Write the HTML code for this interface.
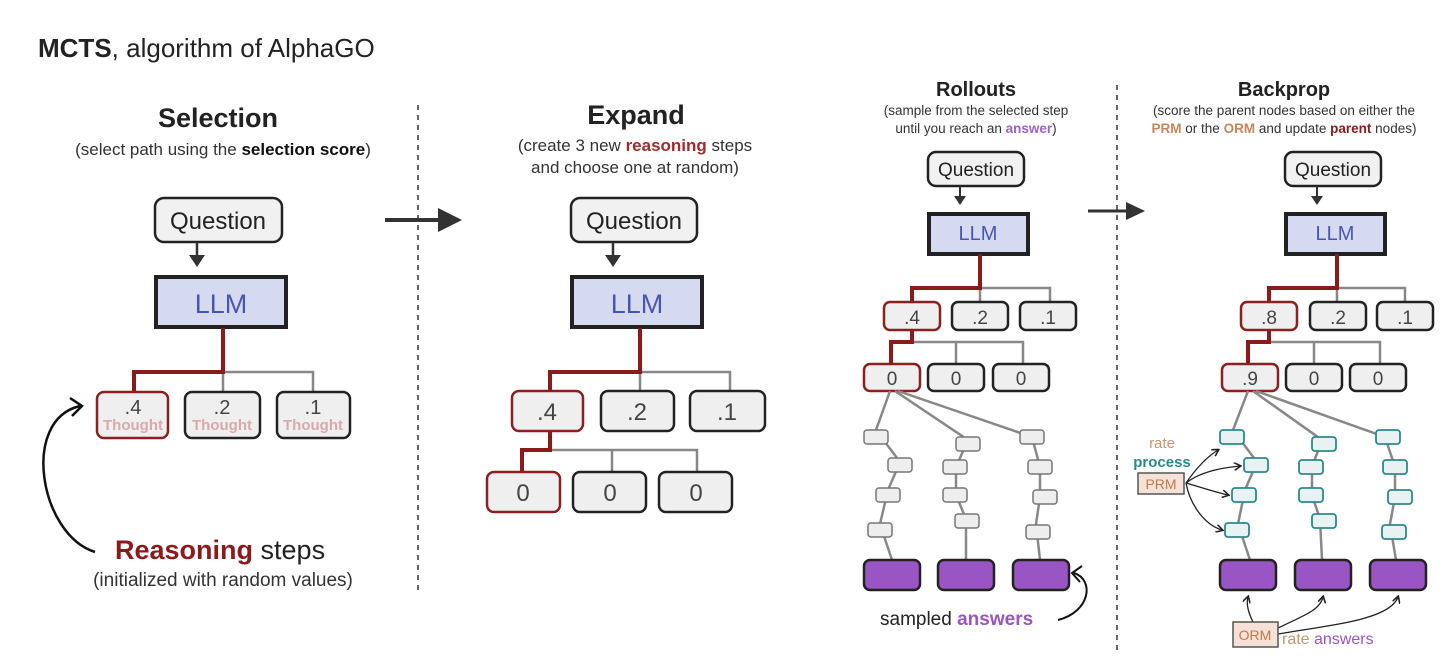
<!DOCTYPE html>
<html><head><meta charset="utf-8"><style>
html,body{margin:0;padding:0;background:#fff;}
svg{display:block;font-family:"Liberation Sans",sans-serif;}
</style></head><body>
<svg width="1456" height="671" viewBox="0 0 1456 671" xmlns="http://www.w3.org/2000/svg">
<defs>
<marker id="ah" markerWidth="8" markerHeight="8" refX="6" refY="4" orient="auto" markerUnits="userSpaceOnUse"><path d="M0,0 L7,4 L0,8" fill="none" stroke="#222" stroke-width="1.6"/></marker>
</defs>
<style>
.q{fill:#f1f1f1;stroke:#222;stroke-width:2.5}
.llm{fill:#d6daf0;stroke:#222;stroke-width:4}
.n{fill:#efefef;stroke:#222;stroke-width:2.5}
.r{fill:#efefef;stroke:#8b2020;stroke-width:2.5}
.s{fill:#eee;stroke:#777;stroke-width:1.5}
.t{fill:#e8f2f2;stroke:#2a8a8a;stroke-width:1.8}
.a{fill:#9a55c4;stroke:#222;stroke-width:2.5}
.rl{fill:none;stroke:#8b1a1a;stroke-width:4}
.gl{fill:none;stroke:#888;stroke-width:2.5}
.gt{fill:none;stroke:#888;stroke-width:2.5}
.txt{fill:#222}
.lt{fill:#4a55b0}
.num{fill:#444}
</style>

<text x="38" y="57" font-size="26" class="txt"><tspan font-weight="bold">MCTS</tspan>, algorithm of AlphaGO</text>

<!-- Panel 1 -->
<text x="218" y="127" font-size="27" font-weight="bold" text-anchor="middle" class="txt">Selection</text>
<text x="223" y="155" font-size="17" text-anchor="middle" fill="#333">(select path using the <tspan font-weight="bold" fill="#111">selection score</tspan>)</text>
<rect x="155" y="198" width="127" height="44" rx="9" class="q"/>
<text x="218" y="229" font-size="24" text-anchor="middle" class="txt">Question</text>
<line x1="197" y1="242" x2="197" y2="256" stroke="#333" stroke-width="2.5"/><path d="M189,255 L205,255 L197,267Z" fill="#333"/>
<rect x="156" y="277" width="130" height="50" class="llm"/>
<text x="221" y="313" font-size="27" text-anchor="middle" class="lt">LLM</text>
<path d="M223,372 H313 V393 M223,372 V393" class="gl"/>
<path d="M223,328 V372 H134 V393" class="rl"/>
<rect x="97" y="392" width="71" height="46" rx="7" class="r"/>
<rect x="185" y="392" width="75" height="46" rx="7" class="n"/>
<rect x="277" y="392" width="73" height="46" rx="7" class="n"/>
<text x="133" y="414" font-size="20" text-anchor="middle" class="num">.4</text>
<text x="222" y="414" font-size="20" text-anchor="middle" class="num">.2</text>
<text x="313" y="414" font-size="20" text-anchor="middle" class="num">.1</text>
<text x="133" y="430" font-size="15" font-weight="bold" text-anchor="middle" fill="#d9a9a9">Thought</text>
<text x="222" y="430" font-size="15" font-weight="bold" text-anchor="middle" fill="#d9a9a9">Thought</text>
<text x="313" y="430" font-size="15" font-weight="bold" text-anchor="middle" fill="#d9a9a9">Thought</text>
<path d="M95,552 C40,535 20,420 80,406" fill="none" stroke="#111" stroke-width="2.5"/>
<path d="M70,398 L82,406 L72,416" fill="none" stroke="#111" stroke-width="2.5"/>
<text x="115" y="559" font-size="27" class="txt"><tspan font-weight="bold" fill="#8b1a1a">Reasoning</tspan> steps</text>
<text x="223" y="586" font-size="19" text-anchor="middle" fill="#333">(initialized with random values)</text>

<line x1="418" y1="105" x2="418" y2="595" stroke="#666" stroke-width="2" stroke-dasharray="5,5"/>
<line x1="385" y1="220" x2="440" y2="220" stroke="#333" stroke-width="4"/><path d="M438,208 L462,220 L438,232Z" fill="#333"/>

<!-- Panel 2 -->
<text x="636" y="124" font-size="27" font-weight="bold" text-anchor="middle" class="txt">Expand</text>
<text x="635" y="151" font-size="17" text-anchor="middle" fill="#333">(create 3 new <tspan font-weight="bold" fill="#a52a2a">reasoning</tspan> steps</text>
<text x="635" y="173" font-size="17" text-anchor="middle" fill="#333">and choose one at random)</text>
<rect x="571" y="198" width="126" height="44" rx="9" class="q"/>
<text x="634" y="229" font-size="24" text-anchor="middle" class="txt">Question</text>
<line x1="613" y1="242" x2="613" y2="256" stroke="#333" stroke-width="2.5"/><path d="M605,255 L621,255 L613,267Z" fill="#333"/>
<rect x="572" y="277" width="130" height="50" class="llm"/>
<text x="637" y="313" font-size="27" text-anchor="middle" class="lt">LLM</text>
<path d="M640,372 H730 V391 M640,372 V391" class="gl"/>
<path d="M640,328 V372 H550 V391" class="rl"/>
<path d="M550,450 H697 V472 M612,450 V472" class="gl"/>
<path d="M550,430 V450 H522 V472" class="rl"/>
<rect x="512" y="391" width="71" height="40" rx="7" class="r"/>
<rect x="601" y="391" width="73" height="40" rx="7" class="n"/>
<rect x="690" y="391" width="75" height="40" rx="7" class="n"/>
<text x="547" y="420" font-size="24" text-anchor="middle" class="num">.4</text>
<text x="637" y="420" font-size="24" text-anchor="middle" class="num">.2</text>
<text x="727" y="420" font-size="24" text-anchor="middle" class="num">.1</text>
<rect x="487" y="472" width="73" height="40" rx="7" class="r"/>
<rect x="573" y="472" width="73" height="40" rx="7" class="n"/>
<rect x="659" y="472" width="73" height="40" rx="7" class="n"/>
<text x="523" y="501" font-size="24" text-anchor="middle" class="num">0</text>
<text x="610" y="501" font-size="24" text-anchor="middle" class="num">0</text>
<text x="696" y="501" font-size="24" text-anchor="middle" class="num">0</text>

<!-- Panel 3 -->
<text x="976" y="96" font-size="20" font-weight="bold" text-anchor="middle" class="txt">Rollouts</text>
<text x="976" y="115" font-size="13.5" text-anchor="middle" fill="#333">(sample from the selected step</text>
<text x="976" y="133" font-size="13.5" text-anchor="middle" fill="#333">until you reach an <tspan font-weight="bold" fill="#a060d0">answer</tspan>)</text>
<rect x="928" y="152" width="96" height="34" rx="8" class="q"/>
<text x="976" y="176" font-size="19" text-anchor="middle" class="txt">Question</text>
<line x1="960" y1="186" x2="960" y2="197" stroke="#333" stroke-width="2"/><path d="M954,196 L966,196 L960,205Z" fill="#333"/>
<rect x="929" y="214" width="99" height="40" class="llm"/>
<text x="978" y="240" font-size="20" text-anchor="middle" class="lt">LLM</text>
<path d="M980,288 H1050 V302 M980,288 V302" class="gl"/>
<path d="M980,254 V288 H912 V302" class="rl"/>
<path d="M912,342 H1023 V364 M956,342 V364" class="gl"/>
<path d="M912,330 V342 H891 V364" class="rl"/>
<rect x="884" y="302" width="56" height="28" rx="6" class="r"/>
<rect x="952" y="302" width="56" height="28" rx="6" class="n"/>
<rect x="1020" y="302" width="56" height="28" rx="6" class="n"/>
<text x="912" y="324" font-size="19" text-anchor="middle" class="num">.4</text>
<text x="980" y="324" font-size="19" text-anchor="middle" class="num">.2</text>
<text x="1048" y="324" font-size="19" text-anchor="middle" class="num">.1</text>
<rect x="864" y="364" width="56" height="27" rx="6" class="r"/>
<rect x="928" y="364" width="56" height="27" rx="6" class="n"/>
<rect x="993" y="364" width="56" height="27" rx="6" class="n"/>
<text x="892" y="385" font-size="19" text-anchor="middle" class="num">0</text>
<text x="956" y="385" font-size="19" text-anchor="middle" class="num">0</text>
<text x="1021" y="385" font-size="19" text-anchor="middle" class="num">0</text>
<g class="gt">
<path d="M890,391 L876,430 L900,462 L888,490 L880,524 L892,560"/>
<path d="M895,391 L968,440 L956,467 L956,495 L966,519 L966,560"/>
<path d="M898,391 L1032,437 L1040,467 L1040,497 L1036,524 L1040,560"/>
</g>
<rect x="864" y="430" width="24" height="14" rx="3" class="s"/>
<rect x="888" y="458" width="24" height="14" rx="3" class="s"/>
<rect x="876" y="488" width="24" height="14" rx="3" class="s"/>
<rect x="868" y="523" width="24" height="14" rx="3" class="s"/>
<rect x="956" y="437" width="24" height="14" rx="3" class="s"/>
<rect x="943" y="460" width="24" height="14" rx="3" class="s"/>
<rect x="943" y="488" width="24" height="14" rx="3" class="s"/>
<rect x="955" y="514" width="24" height="14" rx="3" class="s"/>
<rect x="1020" y="430" width="24" height="14" rx="3" class="s"/>
<rect x="1028" y="460" width="24" height="14" rx="3" class="s"/>
<rect x="1033" y="490" width="24" height="14" rx="3" class="s"/>
<rect x="1026" y="525" width="24" height="14" rx="3" class="s"/>
<rect x="864" y="560" width="56" height="30" rx="6" class="a"/>
<rect x="938" y="560" width="56" height="30" rx="6" class="a"/>
<rect x="1013" y="560" width="56" height="30" rx="6" class="a"/>
<text x="880" y="625" font-size="19" class="txt">sampled <tspan font-weight="bold" fill="#9a55c4">answers</tspan></text>
<path d="M1058,620 C1090,612 1095,580 1074,573" fill="none" stroke="#111" stroke-width="2"/>
<path d="M1082,566 L1072,573 L1080,582" fill="none" stroke="#111" stroke-width="2"/>

<line x1="1117" y1="85" x2="1117" y2="650" stroke="#666" stroke-width="2" stroke-dasharray="5,5"/>
<line x1="1088" y1="211" x2="1128" y2="211" stroke="#333" stroke-width="3"/><path d="M1126,202 L1145,211 L1126,220Z" fill="#333"/>

<!-- Panel 4 -->
<text x="1284" y="96" font-size="20" font-weight="bold" text-anchor="middle" class="txt">Backprop</text>
<text x="1284" y="115" font-size="13.5" text-anchor="middle" fill="#333">(score the parent nodes based on either the</text>
<text x="1284" y="133" font-size="13.5" text-anchor="middle" fill="#333"><tspan font-weight="bold" fill="#c8855a">PRM</tspan> or the <tspan font-weight="bold" fill="#c8855a">ORM</tspan> and update <tspan font-weight="bold" fill="#8b1a1a">parent</tspan> nodes)</text>
<rect x="1285" y="152" width="96" height="34" rx="8" class="q"/>
<text x="1333" y="176" font-size="19" text-anchor="middle" class="txt">Question</text>
<line x1="1317" y1="186" x2="1317" y2="197" stroke="#333" stroke-width="2"/><path d="M1311,196 L1323,196 L1317,205Z" fill="#333"/>
<rect x="1286" y="214" width="99" height="40" class="llm"/>
<text x="1335" y="240" font-size="20" text-anchor="middle" class="lt">LLM</text>
<path d="M1337,288 H1405 V302 M1337,288 V302" class="gl"/>
<path d="M1337,254 V288 H1269 V302" class="rl"/>
<path d="M1269,342 H1380 V364 M1314,342 V364" class="gl"/>
<path d="M1269,330 V342 H1248 V364" class="rl"/>
<rect x="1241" y="302" width="56" height="28" rx="6" class="r"/>
<rect x="1310" y="302" width="56" height="28" rx="6" class="n"/>
<rect x="1377" y="302" width="56" height="28" rx="6" class="n"/>
<text x="1269" y="324" font-size="19" text-anchor="middle" class="num">.8</text>
<text x="1338" y="324" font-size="19" text-anchor="middle" class="num">.2</text>
<text x="1405" y="324" font-size="19" text-anchor="middle" class="num">.1</text>
<rect x="1222" y="364" width="56" height="27" rx="6" class="r"/>
<rect x="1286" y="364" width="56" height="27" rx="6" class="n"/>
<rect x="1350" y="364" width="56" height="27" rx="6" class="n"/>
<text x="1250" y="385" font-size="19" text-anchor="middle" class="num">.9</text>
<text x="1314" y="385" font-size="19" text-anchor="middle" class="num">0</text>
<text x="1378" y="385" font-size="19" text-anchor="middle" class="num">0</text>
<g class="gt">
<path d="M1248,391 L1233,430 L1257,462 L1245,490 L1238,524 L1250,560"/>
<path d="M1253,391 L1322,440 L1312,467 L1312,495 L1320,519 L1322,560"/>
<path d="M1256,391 L1385,437 L1395,467 L1395,497 L1390,524 L1396,560"/>
</g>
<rect x="1220" y="430" width="24" height="14" rx="3" class="t"/>
<rect x="1244" y="458" width="24" height="14" rx="3" class="t"/>
<rect x="1232" y="488" width="24" height="14" rx="3" class="t"/>
<rect x="1225" y="523" width="24" height="14" rx="3" class="t"/>
<rect x="1312" y="437" width="24" height="14" rx="3" class="t"/>
<rect x="1299" y="460" width="24" height="14" rx="3" class="t"/>
<rect x="1299" y="488" width="24" height="14" rx="3" class="t"/>
<rect x="1312" y="514" width="24" height="14" rx="3" class="t"/>
<rect x="1376" y="430" width="24" height="14" rx="3" class="t"/>
<rect x="1383" y="460" width="24" height="14" rx="3" class="t"/>
<rect x="1388" y="490" width="24" height="14" rx="3" class="t"/>
<rect x="1382" y="525" width="24" height="14" rx="3" class="t"/>
<rect x="1220" y="560" width="56" height="30" rx="6" class="a"/>
<rect x="1295" y="560" width="56" height="30" rx="6" class="a"/>
<rect x="1370" y="560" width="56" height="30" rx="6" class="a"/>
<text x="1162" y="448" font-size="15" text-anchor="middle" fill="#c8956a">rate</text>
<text x="1162" y="467" font-size="15" font-weight="bold" text-anchor="middle" fill="#2a8a8a">process</text>
<rect x="1138" y="473" width="46" height="21" fill="#f5e1d5" stroke="#555" stroke-width="1.5"/>
<text x="1161" y="489" font-size="14" text-anchor="middle" fill="#c07a50">PRM</text>
<g fill="none" stroke="#222" stroke-width="1.3" marker-end="url(#ah)">
<path d="M1186,483 C1195,470 1205,458 1218,450"/>
<path d="M1186,483 C1200,472 1220,468 1240,466"/>
<path d="M1186,483 C1200,487 1215,492 1228,495"/>
<path d="M1186,483 C1190,505 1205,525 1222,530"/>
<path d="M1253,622 C1248,612 1246,604 1248,597"/>
<path d="M1278,628 C1305,615 1320,610 1323,597"/>
<path d="M1278,634 C1330,625 1390,620 1398,597"/>
</g>
<rect x="1233" y="622" width="45" height="25" fill="#f5e1d5" stroke="#555" stroke-width="1.5"/>
<text x="1255" y="640" font-size="14" text-anchor="middle" fill="#c07a50">ORM</text>
<text x="1282" y="644" font-size="16" fill="#c8956a">rate <tspan fill="#9a55c4">answers</tspan></text>
</svg>
</body></html>
